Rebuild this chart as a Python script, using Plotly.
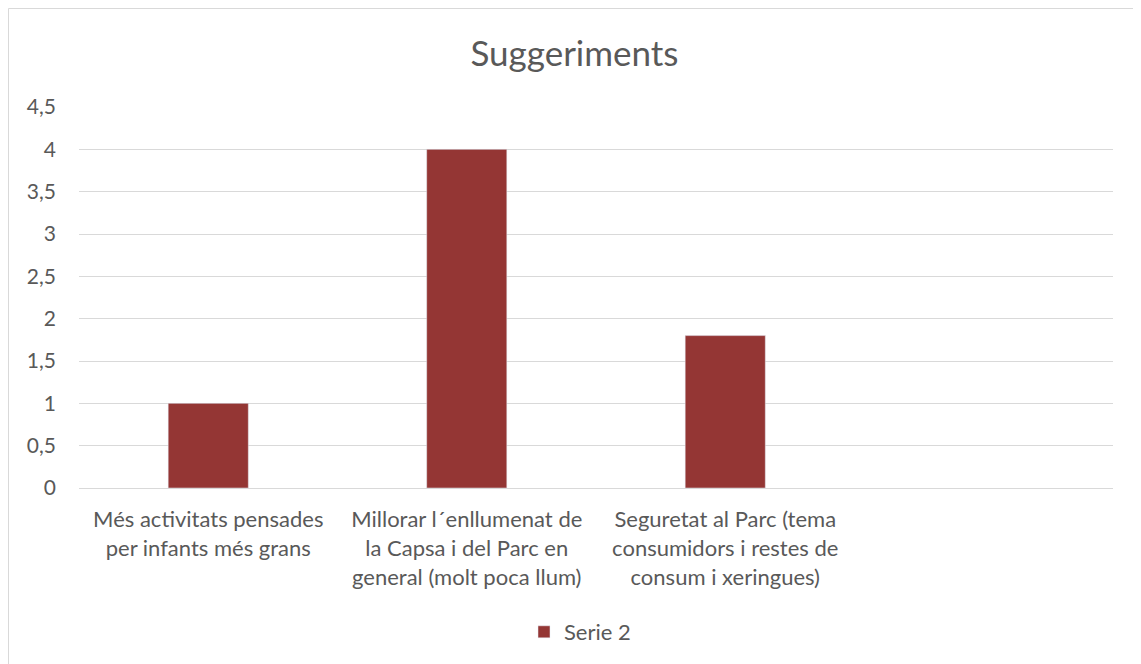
import plotly.graph_objects as go

categories = [
    "Més activitats pensades<br>per infants més grans",
    "Millorar l´enllumenat de<br>la Capsa i del Parc en<br>general (molt poca llum)",
    "Seguretat al Parc (tema<br>consumidors i restes de<br>consum i xeringues)",
    " ",
]
serie2 = [1, 4, 1.8, None]
tick_vals = [0, 0.5, 1, 1.5, 2, 2.5, 3, 3.5, 4, 4.5]
tick_text = ["0", "0,5", "1", "1,5", "2", "2,5", "3", "3,5", "4", "4,5"]

FONT = "Lato"
GREY = "#595959"

W, H = 1133, 656
L, R_EDGE, T, B_EDGE = 71, 1105, 99, 480
PW, PH = R_EDGE - L, B_EDGE - T

fig = go.Figure()
fig.add_trace(go.Bar(x=categories, y=serie2, name="Serie 2", marker_color="#943634"))

fig.update_layout(
    width=W, height=H,
    margin=dict(l=L, r=W - R_EDGE, t=T, b=H - B_EDGE, autoexpand=False),
    paper_bgcolor="white", plot_bgcolor="white",
    font=dict(family=FONT, color=GREY, size=21),
    title=dict(text="Suggeriments", x=0.5, xanchor="center", y=1 - 46 / H, yanchor="middle",
               font=dict(size=35, color=GREY, family=FONT)),
    bargap=0.69,
    showlegend=True,
    legend=dict(orientation="h", x=0.5 - 16 / PW, xanchor="center", y=(B_EDGE - 624) / PH,
                yanchor="middle", font=dict(size=22, color=GREY)),
    xaxis=dict(showgrid=False, showline=True, linecolor="#d9d9d9", linewidth=1,
               ticks="", ticklabelstandoff=12, tickfont=dict(size=22, color=GREY)),
    yaxis=dict(range=[0, 4.5], tickvals=tick_vals, ticktext=tick_text, showgrid=True,
               gridcolor="#d9d9d9", gridwidth=1, zeroline=False, ticks="", ticklabelstandoff=22,
               tickfont=dict(size=21, color=GREY)),
    shapes=[dict(type="rect", xref="paper", yref="paper",
                 x0=(0.5 - L) / PW, x1=(W + 5 - L) / PW,
                 y0=(B_EDGE - (H + 5)) / PH, y1=(B_EDGE - 0.5) / PH,
                 line=dict(color="#d9d9d9", width=1), fillcolor="rgba(0,0,0,0)", layer="below")],
)

fig.write_html("out.html")
